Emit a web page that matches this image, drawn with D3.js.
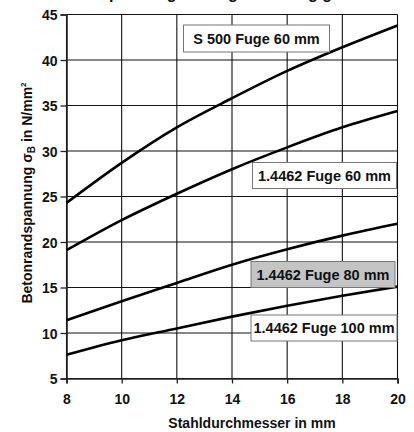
<!DOCTYPE html>
<html><head><meta charset="utf-8">
<script src="https://cdn.jsdelivr.net/npm/d3@7"></script>
<style>
html,body{margin:0;padding:0;background:#fff;}
svg{display:block;font-family:"Liberation Sans",Arial,sans-serif;}
</style></head>
<body>
<svg id="c" width="414" height="432"></svg>
<script>
const xValues = [8, 10, 12, 14, 16, 18, 20];
const xTicks = [8, 10, 12, 14, 16, 18, 20];
const yTicks = [5, 10, 15, 20, 25, 30, 35, 40, 45];
const s500Fuge60 = [24.3, 28.7, 32.6, 35.8, 38.8, 41.4, 43.8];
const d14462Fuge60 = [19.1, 22.4, 25.3, 28.0, 30.4, 32.6, 34.4];
const d14462Fuge80 = [11.4, 13.5, 15.5, 17.5, 19.2, 20.7, 22.0];
const d14462Fuge100 = [7.6, 9.2, 10.5, 11.8, 13.0, 14.1, 15.1];
const seriesNames = ["S 500 Fuge 60 mm", "1.4462 Fuge 60 mm", "1.4462 Fuge 80 mm", "1.4462 Fuge 100 mm"];
const titleText = "Betonrandspannung bei Fugen abhängig vom Stahldurchmesser";
const xTitle = "Stahldurchmesser in mm";

const svg = d3.select("#c");
const x = d3.scaleLinear().domain([8, 20]).range([66.5, 397.5]);
const y = d3.scaleLinear().domain([5, 45]).range([378.5, 14.5]);

// title, cut off at the top edge as in the reference (only descenders visible)
svg.append("text").attr("x", 20).attr("y", -1).attr("font-size", 16).attr("font-weight", "bold")
  .attr("fill", "#111").text(titleText);

// grid
const g = svg.append("g");
g.selectAll("line.h").data(yTicks).join("line")
  .attr("x1", x(8)).attr("x2", x(20)).attr("y1", d => y(d)).attr("y2", d => y(d))
  .attr("stroke", "#111").attr("stroke-width", 1.1);
g.selectAll("line.v").data(xTicks).join("line")
  .attr("y1", y(5)).attr("y2", y(45)).attr("x1", d => x(d)).attr("x2", d => x(d))
  .attr("stroke", "#111").attr("stroke-width", 1.1);

// axes
const xAxis = d3.axisBottom(x).tickValues(xTicks).tickSize(5).tickPadding(8).tickFormat(d3.format("d"));
const yAxis = d3.axisLeft(y).tickValues(yTicks).tickSize(6).tickPadding(3).tickFormat(d3.format("d"));
const gx = svg.append("g").attr("transform", `translate(0,${y(5)})`).call(xAxis);
const gy = svg.append("g").attr("transform", `translate(${x(8)},0)`).call(yAxis);
[gx, gy].forEach(a => {
  a.select(".domain").attr("stroke", "#222").attr("stroke-width", 1.6);
  a.selectAll(".tick line").attr("stroke", "#222").attr("stroke-width", 1.3);
  a.selectAll(".tick text").attr("font-size", 14).attr("font-weight", "bold").attr("fill", "#111")
    .attr("font-family", '"Liberation Sans",Arial,sans-serif');
});
gx.selectAll(".tick text").attr("dy", "0.9em");
gy.selectAll(".tick text").attr("dy", "0.36em");

// curves
const line = d3.line().x((d, i) => x(xValues[i])).y(d => y(d)).curve(d3.curveMonotoneX);
const all = [s500Fuge60, d14462Fuge60, d14462Fuge80, d14462Fuge100];
svg.append("g").selectAll("path").data(all).join("path")
  .attr("d", d => line(d)).attr("fill", "none").attr("stroke", "#000").attr("stroke-width", 2.6);

// labels (boxes)
const boxes = [
  {name: seriesNames[0], x0: 183.5, y0: 25, w: 146, h: 27, fill: "#fff"},
  {name: seriesNames[1], x0: 252.5, y0: 162.5, w: 144, h: 26, fill: "#fff"},
  {name: seriesNames[2], x0: 251, y0: 261.5, w: 144, h: 26, fill: "#c4c4c4"},
  {name: seriesNames[3], x0: 251, y0: 315, w: 146, h: 26, fill: "#fff"}
];
const lb = svg.append("g").selectAll("g").data(boxes).join("g");
lb.append("rect").attr("x", d => d.x0).attr("y", d => d.y0).attr("width", d => d.w).attr("height", d => d.h)
  .attr("fill", d => d.fill).attr("stroke", "#777").attr("stroke-width", 1);
lb.append("text").attr("x", d => d.x0 + d.w / 2).attr("y", d => d.y0 + d.h / 2 + 5)
  .attr("text-anchor", "middle").attr("font-size", 14.5).attr("font-weight", "bold").attr("fill", "#111")
  .text(d => d.name);

// axis titles
svg.append("text").attr("x", 252).attr("y", 428).attr("text-anchor", "middle")
  .attr("font-size", 14).attr("font-weight", "bold").attr("fill", "#111").text(xTitle);
const yt = svg.append("text").attr("transform", "translate(32,193) rotate(-90)").attr("text-anchor", "middle")
  .attr("font-size", 14).attr("font-weight", "bold").attr("fill", "#111");
yt.append("tspan").text("Betonrandspannung σ");
yt.append("tspan").attr("font-size", 10).attr("dy", 3).text("B");
yt.append("tspan").attr("dy", -3).text(" in N/mm");
yt.append("tspan").attr("font-size", 8).attr("dy", -6).text("2");
</script>
</body></html>
